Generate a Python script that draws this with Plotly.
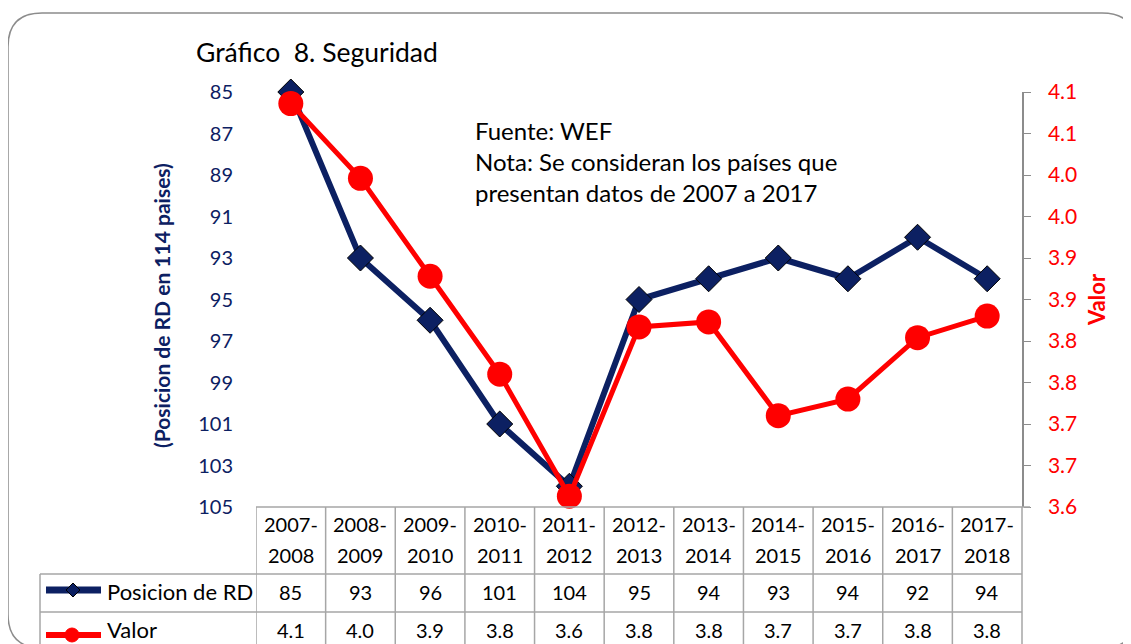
import plotly.graph_objects as go

categories = ["2007-2008", "2008-2009", "2009-2010", "2010-2011", "2011-2012", "2012-2013",
              "2013-2014", "2014-2015", "2015-2016", "2016-2017", "2017-2018"]
posicion = [85, 93, 96, 101, 104, 95, 94, 93, 94, 92, 94]
valor = [4.086, 3.996, 3.878, 3.760, 3.613, 3.817, 3.823, 3.710, 3.730, 3.804, 3.830]
left_ticks = [85, 87, 89, 91, 93, 95, 97, 99, 101, 103, 105]
right_tickvals = [3.60, 3.65, 3.70, 3.75, 3.80, 3.85, 3.90, 3.95, 4.00, 4.05, 4.10]
right_ticktext = ["3.6", "3.7", "3.7", "3.8", "3.8", "3.9", "3.9", "4.0", "4.0", "4.1", "4.1"]
series_names = ["Posicion de RD", "Valor"]
title_text = "Gráfico\u00a0\u00a08. Seguridad"
note_lines = ["Fuente: WEF", "Nota: Se consideran los países que", "presentan datos de 2007 a 2017"]

OFF = 8  # default page body margin
W, H = 1131 - OFF, 644 - OFF
L, R, T, B = 256, 1022, 92, 507  # page pixel coords of plot area
NAVY = "#0C2062"
RED = "#FF0000"
GRID = "#A6A6A6"
FONT = "Lato"


def px(x):
    return (x - L) / (R - L)


def py(y):
    return (B - y) / (B - T)


fig = go.Figure()
fig.add_trace(go.Scatter(
    x=categories, y=posicion, name=series_names[0], mode="lines+markers",
    line=dict(color=NAVY, width=6),
    marker=dict(symbol="diamond", size=20, color=NAVY, line=dict(color="#000000", width=1)),
    cliponaxis=False, yaxis="y", hoverinfo="skip"))
fig.add_trace(go.Scatter(
    x=categories, y=valor, name=series_names[1], mode="lines+markers",
    line=dict(color=RED, width=5),
    marker=dict(symbol="circle", size=25, color=RED),
    cliponaxis=False, yaxis="y2", hoverinfo="skip"))

shapes = []
annotations = []

# rounded outer border
x0, y0, x1, y1, r = 8, 13, 1136, 648, 34
path = (f"M {px(x0+r)},{py(y0)} L {px(x1-r)},{py(y0)} Q {px(x1)},{py(y0)} {px(x1)},{py(y0+r)} "
        f"L {px(x1)},{py(y1-r)} Q {px(x1)},{py(y1)} {px(x1-r)},{py(y1)} "
        f"L {px(x0+r)},{py(y1)} Q {px(x0)},{py(y1)} {px(x0)},{py(y1-r)} "
        f"L {px(x0)},{py(y0+r)} Q {px(x0)},{py(y0)} {px(x0+r)},{py(y0)} Z")
shapes.append(dict(type="path", xref="paper", yref="paper", path=path,
                   line=dict(color="#8C8C8C", width=1.5), layer="below"))

# data table grid
n = len(categories)
for yy, xs, xe in [(507, L, 1030), (574, 40, R), (612, 40, R), (652, 40, R)]:
    shapes.append(dict(type="line", xref="paper", yref="paper", x0=px(xs), x1=px(xe),
                       y0=py(yy), y1=py(yy), line=dict(color=GRID, width=1.5)))
for i in range(n):
    shapes.append(dict(type="line", xref="x", yref="paper", x0=i - 0.5, x1=i - 0.5,
                       y0=py(507), y1=py(652), line=dict(color=GRID, width=1.5)))
shapes.append(dict(type="line", xref="paper", yref="paper", x0=1.0, x1=1.0,
                   y0=py(507), y1=py(652), line=dict(color=GRID, width=1.5)))
shapes.append(dict(type="line", xref="paper", yref="paper", x0=px(40), x1=px(40),
                   y0=py(574), y1=py(652), line=dict(color=GRID, width=1.5)))

cell_font = dict(size=20, color="black", family=FONT)
for i, cat in enumerate(categories):
    a, b = cat.split("-")
    for txt, yy in [(a + "-", 524), (b, 555), (str(posicion[i]), 592), (f"{valor[i]:.1f}", 630)]:
        annotations.append(dict(x=cat, xref="x", y=py(yy), yref="paper", text=txt,
                                xanchor="center", yanchor="middle", showarrow=False, font=cell_font))

# legend keys inside table
for yy, color, lw in [(590, NAVY, 7), (635, RED, 6)]:
    shapes.append(dict(type="line", xref="paper", yref="paper", x0=px(46), x1=px(101),
                       y0=py(yy), y1=py(yy), line=dict(color=color, width=lw)))
cx, cy, d = 73, 590, 7
shapes.append(dict(type="path", xref="paper", yref="paper",
                   path=f"M {px(cx)},{py(cy-d)} L {px(cx+d)},{py(cy)} L {px(cx)},{py(cy+d)} L {px(cx-d)},{py(cy)} Z",
                   fillcolor=NAVY, line=dict(color="#000000", width=1)))
cx, cy, rr = 72, 635, 7
shapes.append(dict(type="circle", xref="paper", yref="paper",
                   x0=px(cx-rr), x1=px(cx+rr), y0=py(cy+rr), y1=py(cy-rr),
                   fillcolor=RED, line=dict(color=RED, width=1)))
leg_font = dict(size=22, color="black", family=FONT)
annotations.append(dict(x=px(105), xref="paper", y=py(591), yref="paper", text=series_names[0],
                        xanchor="left", yanchor="middle", showarrow=False, font=leg_font))
annotations.append(dict(x=px(105), xref="paper", y=py(629), yref="paper", text=series_names[1],
                        xanchor="left", yanchor="middle", showarrow=False, font=leg_font))

# titles and notes
annotations.append(dict(x=px(194), xref="paper", y=py(52), yref="paper", text=title_text,
                        xanchor="left", yanchor="middle", showarrow=False,
                        font=dict(size=26.5, color="black", family=FONT)))
for txt, yy in zip(note_lines, [130, 161, 192]):
    annotations.append(dict(x=px(473), xref="paper", y=py(yy), yref="paper", text=txt,
                            xanchor="left", yanchor="middle", showarrow=False,
                            font=dict(size=24, color="black", family=FONT)))
annotations.append(dict(x=px(161), xref="paper", y=py(306), yref="paper", textangle=-90,
                        text="<b>(Posicion de RD en 114 paises)</b>", showarrow=False,
                        xanchor="center", yanchor="middle",
                        font=dict(size=21, color=NAVY, family=FONT)))
annotations.append(dict(x=px(1096), xref="paper", y=py(300), yref="paper", textangle=-90,
                        text="<b>Valor</b>", showarrow=False, xanchor="center", yanchor="middle",
                        font=dict(size=22, color=RED, family=FONT)))

fig.update_layout(
    width=W, height=H, autosize=False,
    margin=dict(l=L - OFF, r=W - (R - OFF), t=T - OFF, b=H - (B - OFF), pad=0),
    paper_bgcolor="white", plot_bgcolor="white",
    showlegend=False,
    font=dict(family=FONT, color="black"),
    xaxis=dict(type="category", range=[-0.5, n - 0.5], showticklabels=False, ticks="",
               showgrid=False, zeroline=False, showline=False),
    yaxis=dict(range=[105, 85], tickvals=left_ticks, showgrid=False, zeroline=False,
               showline=False, ticks="", ticklabelstandoff=22,
               tickfont=dict(size=20, color=NAVY, family=FONT)),
    yaxis2=dict(range=[3.6, 4.1], overlaying="y", side="right", tickvals=right_tickvals,
                ticktext=right_ticktext, showgrid=False, zeroline=False,
                showline=True, linecolor="#8C8C8C", linewidth=1.5,
                ticks="outside", ticklen=7, tickcolor="#8C8C8C", ticklabelstandoff=13,
                tickfont=dict(size=21, color=RED, family=FONT)),
    shapes=shapes, annotations=annotations,
)
fig.write_html("out.html")
